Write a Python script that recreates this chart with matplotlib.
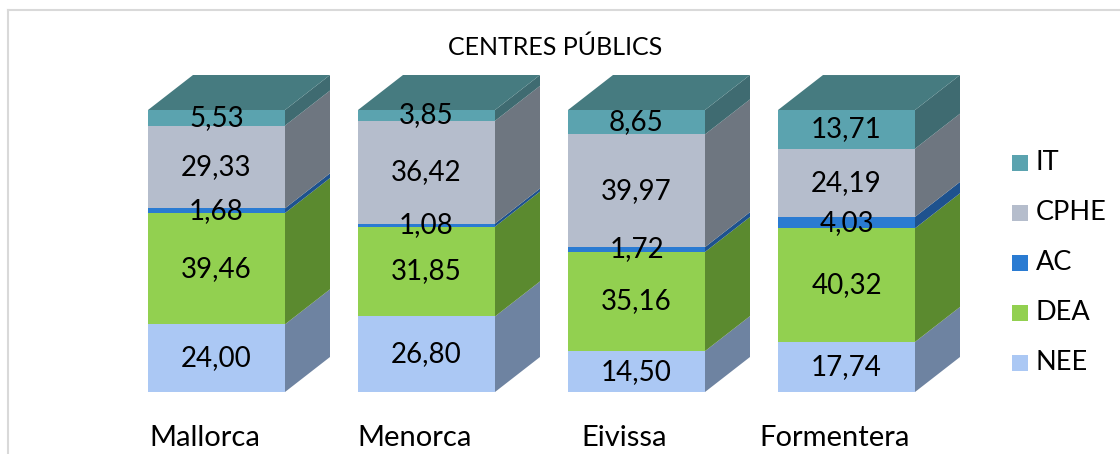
import matplotlib
matplotlib.use('Agg')
import matplotlib.pyplot as plt
from matplotlib.patches import Polygon

# Share of each category per island (percent)
islands = ['Mallorca', 'Menorca', 'Eivissa', 'Formentera']
series = ['NEE', 'DEA', 'AC', 'CPHE', 'IT']
nee = [24.00, 26.80, 14.50, 17.74]
dea = [39.46, 31.85, 35.16, 40.32]
ac = [1.68, 1.08, 1.72, 4.03]
cphe = [29.33, 36.42, 39.97, 24.19]
it = [5.53, 3.85, 8.65, 13.71]
values = [nee, dea, ac, cphe, it]

front_colors = ['#abc8f4', '#92d050', '#2a7bd2', '#b5bdcc', '#5ba3af']
side_colors = ['#6e83a1', '#5b8a2f', '#1e528e', '#6e7680', '#3f6b71']
top_color = '#467b80'

W, H = 1120, 454
fig = plt.figure(figsize=(W / 100, H / 100), dpi=100)

# axes: full width, y from 0 % (bar base) to 100 % (bar top)
ax = fig.add_axes([0, (H - 392) / H, 1, 282 / H])
ax.set_ylim(0, 100)
ax.set_xlim(-216.5 / 210, (W - 216.5) / 210)
ax.axis('off')

bar_w = 137 / 210
dx = 45 / 210
dy = 35 / 282 * 100
font = 'Lato'

bottoms = [0.0] * len(islands)
for vals, name, fc, sc in zip(values, series, front_colors, side_colors):
    for i, v in enumerate(vals):
        b = bottoms[i]
        x1 = i + bar_w / 2
        ax.bar(i, v, width=bar_w, bottom=b, color=fc, edgecolor='none', zorder=2)
        side = Polygon([(x1, b), (x1 + dx, b + dy), (x1 + dx, b + v + dy), (x1, b + v)],
                       closed=True, facecolor=sc, edgecolor='none', zorder=1, clip_on=False)
        ax.add_patch(side)
        ax.text(i, b + v / 2, f'{v:.2f}'.replace('.', ','), ha='center', va='center',
                fontsize=20, family=font, color='black', zorder=5)
        bottoms[i] = b + v

# top faces
for i, top in enumerate(bottoms):
    x0, x1 = i - bar_w / 2, i + bar_w / 2
    ax.add_patch(Polygon([(x0, top), (x0 + dx, top + dy), (x1 + dx, top + dy), (x1, top)],
                         closed=True, facecolor=top_color, edgecolor='none', zorder=1, clip_on=False))

# island names under the bars
for i, name in enumerate(islands):
    fig.text((216.5 + 210 * i - 12) / W, 1 - 438 / H, name, ha='center', va='center',
             fontsize=21, family=font)

fig.text(555 / W, 1 - 47 / H, 'CENTRES PÚBLICS', ha='center', va='center',
         fontsize=18, family=font)

# legend, top entry first
for k, (name, fc) in enumerate(zip(series[::-1], front_colors[::-1])):
    yc = 163 + 50 * k
    fig.patches.append(plt.Rectangle((1012 / W, 1 - (yc + 8) / H), 16 / W, 16 / H,
                                     transform=fig.transFigure, facecolor=fc, edgecolor='none'))
    fig.text(1036 / W, 1 - yc / H, name, ha='left', va='center', fontsize=19.5, family=font)

# chart area frame
fig.add_artist(plt.Line2D([8 / W, 8 / W], [0, 1 - 9.5 / H], transform=fig.transFigure,
                          color='#d9d9d9', lw=1.5))
fig.add_artist(plt.Line2D([8 / W, 1], [1 - 9.5 / H, 1 - 9.5 / H], transform=fig.transFigure,
                          color='#d9d9d9', lw=1.5))

fig.savefig('out.png', dpi=100, facecolor='white')
